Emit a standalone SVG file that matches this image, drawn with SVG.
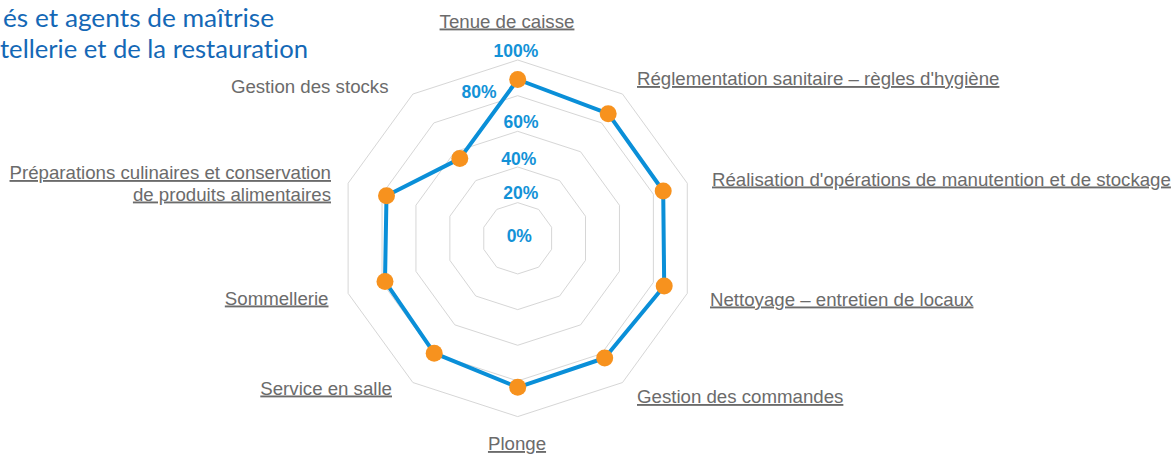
<svg xmlns="http://www.w3.org/2000/svg" width="1174" height="455" viewBox="0 0 1174 455">
  <style>
    .grid { fill: none; stroke: #d6d6d6; stroke-width: 1; }
    .series { fill: none; stroke: #0a8fd8; stroke-width: 4; stroke-linejoin: round; }
    .dot { fill: #f7921e; }
    .pct { font-family: "Liberation Sans", Arial, sans-serif; font-weight: bold; font-size: 17.5px; fill: #1392d7; text-anchor: middle; }
    .cat { font-family: "Liberation Sans", Arial, sans-serif; font-size: 18.67px; fill: #6b6b6b; }
    .u { text-decoration: underline; }
    .title { font-family: Lato, "Open Sans", sans-serif; font-size: 25px; fill: #1468b6; font-variant-ligatures: none; font-feature-settings: "liga" 0, "clig" 0; }
  </style>
  <rect width="1174" height="455" fill="#ffffff"/>

  <g id="title">
    <text class="title" x="3" y="27" textLength="271" lengthAdjust="spacingAndGlyphs">és et agents de maîtrise</text>
    <text class="title" x="0" y="57.5" textLength="308" lengthAdjust="spacingAndGlyphs">tellerie et de la restauration</text>
  </g>

  <g id="grid">
    <polygon class="grid" points="517.7,202.64 538.66,209.45 551.62,227.28 551.62,249.32 538.66,267.15 517.7,273.96 496.74,267.15 483.78,249.32 483.78,227.28 496.74,209.45"/>
    <polygon class="grid" points="517.7,166.98 559.62,180.6 585.53,216.26 585.53,260.34 559.62,296.0 517.7,309.62 475.78,296.0 449.87,260.34 449.87,216.26 475.78,180.6"/>
    <polygon class="grid" points="517.7,131.32 580.58,151.75 619.45,205.24 619.45,271.36 580.58,324.85 517.7,345.28 454.82,324.85 415.95,271.36 415.95,205.24 454.82,151.75"/>
    <polygon class="grid" points="517.7,95.66 601.54,122.9 653.36,194.22 653.36,282.38 601.54,353.7 517.7,380.94 433.86,353.7 382.04,282.38 382.04,194.22 433.86,122.9"/>
    <polygon class="grid" points="517.7,60.0 622.51,94.06 687.28,183.21 687.28,293.39 622.51,382.54 517.7,416.6 412.89,382.54 348.12,293.39 348.12,183.21 412.89,94.06"/>
  </g>

  <g id="axis-labels">
    <text class="pct" x="516" y="56.7">100%</text>
    <text class="pct" x="479" y="98.3">80%</text>
    <text class="pct" x="521" y="128.3">60%</text>
    <text class="pct" x="518.7" y="165">40%</text>
    <text class="pct" x="520.7" y="199.3">20%</text>
    <text class="pct" x="519.3" y="241.7">0%</text>
  </g>

  <g id="connectors">
    <polygon class="series" points="517.7,79.5 608.2,113.7 663.2,191.0 664.2,285.9 604.7,358.0 517.7,387.3 434.2,353.2 385.0,281.4 386.5,195.7 459.8,158.6"/>
  </g>

  <g id="points">
    <circle class="dot" cx="517.7" cy="79.5" r="8.5"/>
    <circle class="dot" cx="608.2" cy="113.7" r="8.5"/>
    <circle class="dot" cx="663.2" cy="191.0" r="8.5"/>
    <circle class="dot" cx="664.2" cy="285.9" r="8.5"/>
    <circle class="dot" cx="604.7" cy="358.0" r="8.5"/>
    <circle class="dot" cx="517.7" cy="387.3" r="8.5"/>
    <circle class="dot" cx="434.2" cy="353.2" r="8.5"/>
    <circle class="dot" cx="385.0" cy="281.4" r="8.5"/>
    <circle class="dot" cx="386.5" cy="195.7" r="8.5"/>
    <circle class="dot" cx="459.8" cy="158.6" r="8.5"/>
  </g>

  <g id="node-tenue-de-caisse"><text class="cat u" x="507" y="27.5" text-anchor="middle">Tenue de caisse</text></g>
  <g id="node-reglementation"><text class="cat u" x="637" y="85" text-anchor="start">Réglementation sanitaire – règles d'hygiène</text></g>
  <g id="node-realisation"><text class="cat u" x="712" y="185.5" text-anchor="start">Réalisation d'opérations de manutention et de stockage</text></g>
  <g id="node-nettoyage"><text class="cat u" x="710" y="305.5" text-anchor="start">Nettoyage – entretien de locaux</text></g>
  <g id="node-gestion-commandes"><text class="cat u" x="637" y="403" text-anchor="start">Gestion des commandes</text></g>
  <g id="node-plonge"><text class="cat u" x="517" y="450" text-anchor="middle">Plonge</text></g>
  <g id="node-service-en-salle"><text class="cat u" x="392" y="394.5" text-anchor="end">Service en salle</text></g>
  <g id="node-sommellerie"><text class="cat u" x="328.5" y="304.5" text-anchor="end">Sommellerie</text></g>
  <g id="node-preparations">
    <text class="cat u" x="331" y="179" text-anchor="end">Préparations culinaires et conservation</text>
    <text class="cat u" x="331" y="200.5" text-anchor="end">de produits alimentaires</text>
  </g>
  <g id="node-gestion-stocks"><text class="cat" x="388.5" y="92.5" text-anchor="end">Gestion des stocks</text></g>
</svg>
